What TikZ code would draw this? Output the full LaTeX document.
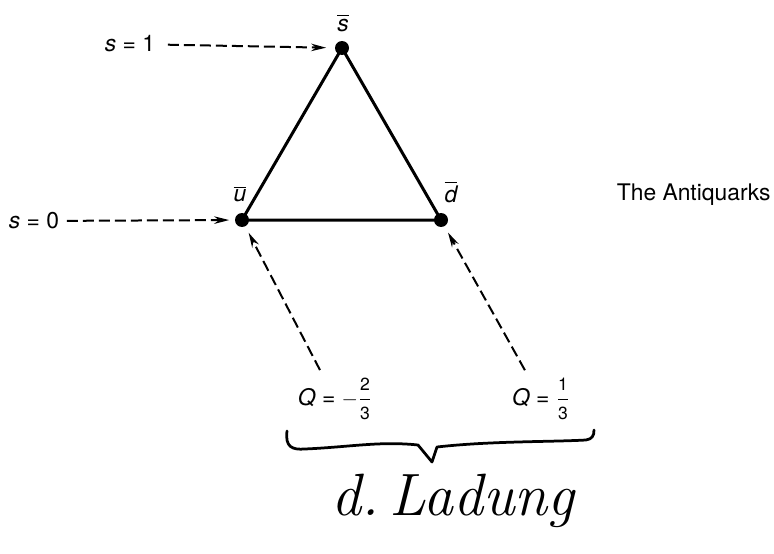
\documentclass[tikz,border=0pt]{standalone}
\usepackage{amsmath}
\usepackage{fontspec}
\setsansfont{TeX Gyre Heros}
\usetikzlibrary{positioning,arrows.meta}

\newcommand{\qbar}[1]{$\overline{\text{\itshape #1}}$}
\newcommand{\qfrac}[2]{$\dfrac{\text{\fontsize{10}{10}\selectfont #1}}{\text{\fontsize{10}{10}\selectfont #2}}$}

\tikzset{
  quark/.style={shape=circle, fill=black, inner sep=0pt, minimum size=0.28cm},
  tag/.style={font=\sffamily\fontsize{13}{15}\selectfont, inner sep=0.05cm},
  dasharrow/.style={-{Stealth[length=0.3cm, width=0.15cm]}, dash pattern=on 0.22cm off 0.1cm, line width=0.04cm},
  tribond/.style={line width=0.06cm, line join=round},
  hand/.style={line width=0.055cm, line cap=round, line join=round}
}

\begin{document}
\begin{tikzpicture}[x=0.02cm, y=-0.02cm]
    \useasboundingbox (0,0) rectangle (774,554);
    \node[name=sbar, quark] at (342, 48) {};
    \node[name=ubar, quark] at (242, 220) {};
    \node[name=dbar, quark] at (441, 220) {};
    \draw[tribond] (sbar.center) -- (ubar.center) -- (dbar.center) -- cycle;
    \node[name=sbarlbl, tag] at (343, 23) {\qbar{s}};
    \node[name=ubarlbl, tag] at (240, 194) {\qbar{u}};
    \node[name=dbarlbl, tag] at (451, 192) {\qbar{d}};
    \node[name=sone, tag] at (130, 44) {\textit{s} = 1};
    \node[name=szero, tag] at (34, 221) {\textit{s} = 0};
    \draw[dasharrow, shorten <=0.2cm, shorten >=0.17cm] (sone) -- (sbar);
    \draw[dasharrow, shorten <=0.1cm, shorten >=0.11cm] (szero) -- (ubar);
    \node[name=title, tag, anchor=west] at (614, 195) {The Antiquarks};
    \node[name=qu, tag] at (335, 399) {\textit{Q} = $-$\qfrac{2}{3}};
    \node[name=qd, tag] at (541, 399) {\textit{Q} = \qfrac{1}{3}};
    \draw[dasharrow, shorten <=0.12cm, shorten >=0.14cm] (qu) -- (ubar);
    \draw[dasharrow, shorten <=0.12cm, shorten >=0.14cm] (qd) -- (dbar);
    \draw[hand] (287, 431) .. controls (285, 447) and (292, 450) .. (305, 449) .. controls (350, 447) and (380, 441) .. (418, 445) -- (432, 462) -- (437, 447) .. controls (490, 441) and (550, 442) .. (586, 440) .. controls (592, 439) and (594, 436) .. (594, 430);
    \node[name=ladung, font=\rmfamily\itshape\fontsize{34}{40}\selectfont, anchor=base] at (453, 515) {d.\,Ladung};
\end{tikzpicture}
\end{document}
